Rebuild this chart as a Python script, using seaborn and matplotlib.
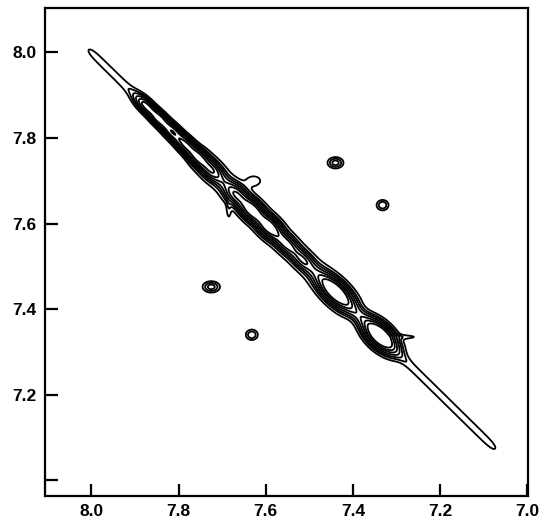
import numpy as np
import matplotlib
matplotlib.use("Agg")
import matplotlib.pyplot as plt
import seaborn as sns

# Peaks (ppm)
# diagonal peaks: position on diagonal, height, width along diagonal, width across
diag_pos = [7.875, 7.845, 7.815, 7.785, 7.755, 7.725, 7.668, 7.632, 7.592, 7.552, 7.515, 7.440, 7.338]
diag_amp = [0.80, 0.90, 0.90, 1.10, 1.20, 0.90, 0.90, 1.50, 1.50, 0.70, 0.55, 2.00, 2.40]
diag_su = [0.012, 0.012, 0.012, 0.013, 0.013, 0.013, 0.013, 0.015, 0.015, 0.014, 0.013, 0.022, 0.020]
diag_sd = [0.011, 0.012, 0.013, 0.014, 0.015, 0.016, 0.018, 0.018, 0.018, 0.016, 0.015, 0.020, 0.021]

# ridges along the diagonal: start, end, height, width across
ridge_start = [8.01, 7.90, 7.76]
ridge_end = [7.07, 7.30, 7.40]
ridge_amp = [0.16, 0.30, 0.15]
ridge_sd = [0.011, 0.016, 0.032]

# cross peaks and small features: x (F2), y (F1), height, sx, sy
cross_x = [7.440, 7.725, 7.332, 7.632, 7.627, 7.685, 7.285]
cross_y = [7.742, 7.452, 7.643, 7.340, 7.700, 7.635, 7.335]
cross_amp = [0.40, 0.40, 0.32, 0.32, 0.16, 0.13, 0.14]
cross_sx = [0.011, 0.012, 0.009, 0.009, 0.014, 0.004, 0.030]
cross_sy = [0.008, 0.008, 0.008, 0.008, 0.010, 0.020, 0.004]

levels = [0.1, 0.2, 0.32, 0.5, 0.75, 1.05, 1.45]

x_ticks = [8.0, 7.8, 7.6, 7.4, 7.2, 7.0]
x_labels = ["8.0", "7.8", "7.6", "7.4", "7.2", "7.0"]
y_ticks = [8.0, 7.8, 7.6, 7.4, 7.2, 7.0]
y_labels = ["8.0", "7.8", "7.6", "7.4", "7.2", ""]

# build the 2D spectrum from the peak lists
xs = np.linspace(7.0, 8.11, 700)
ys = np.linspace(6.96, 8.11, 700)
X, Y = np.meshgrid(xs, ys)
U = (X + Y) / 2
D = Y - X

Z = np.zeros_like(X)
for r0, r1, a, sd in zip(ridge_start, ridge_end, ridge_amp, ridge_sd):
    Z += a * 0.25 * (1 + np.tanh((U - r1) / 0.015)) * (1 - np.tanh((U - r0) / 0.015)) \
        * np.exp(-D ** 2 / (2 * sd ** 2))
for p, a, su, sd in zip(diag_pos, diag_amp, diag_su, diag_sd):
    Z += a * np.exp(-(U - p) ** 2 / (2 * su ** 2) - D ** 2 / (2 * sd ** 2))
for cx, cy, a, sx, sy in zip(cross_x, cross_y, cross_amp, cross_sx, cross_sy):
    Z += a * np.exp(-(X - cx) ** 2 / (2 * sx ** 2) - (Y - cy) ** 2 / (2 * sy ** 2))

sns.set_style("ticks")
plt.rcParams['font.family'] = ['Liberation Sans', 'DejaVu Sans']

fig = plt.figure(figsize=(5.4, 5.25), dpi=100)
ax = fig.add_axes([0.083, 0.055, 0.895, 0.93])
ax.contour(X, Y, Z, levels=levels, colors="black", linewidths=1.3)

ax.set_xlim(8.107, 6.998)
ax.set_ylim(6.963, 8.104)
ax.set_xticks(x_ticks)
ax.set_xticklabels(x_labels)
ax.set_yticks(y_ticks)
ax.set_yticklabels(y_labels)
ax.tick_params(direction="in", length=9, width=1.6, pad=6, labelsize=12.5, colors="black")
for lab in ax.get_xticklabels() + ax.get_yticklabels():
    lab.set_fontweight("bold")
for s in ax.spines.values():
    s.set_linewidth(1.6)
    s.set_color("black")

plt.savefig("out.png", dpi=100)
